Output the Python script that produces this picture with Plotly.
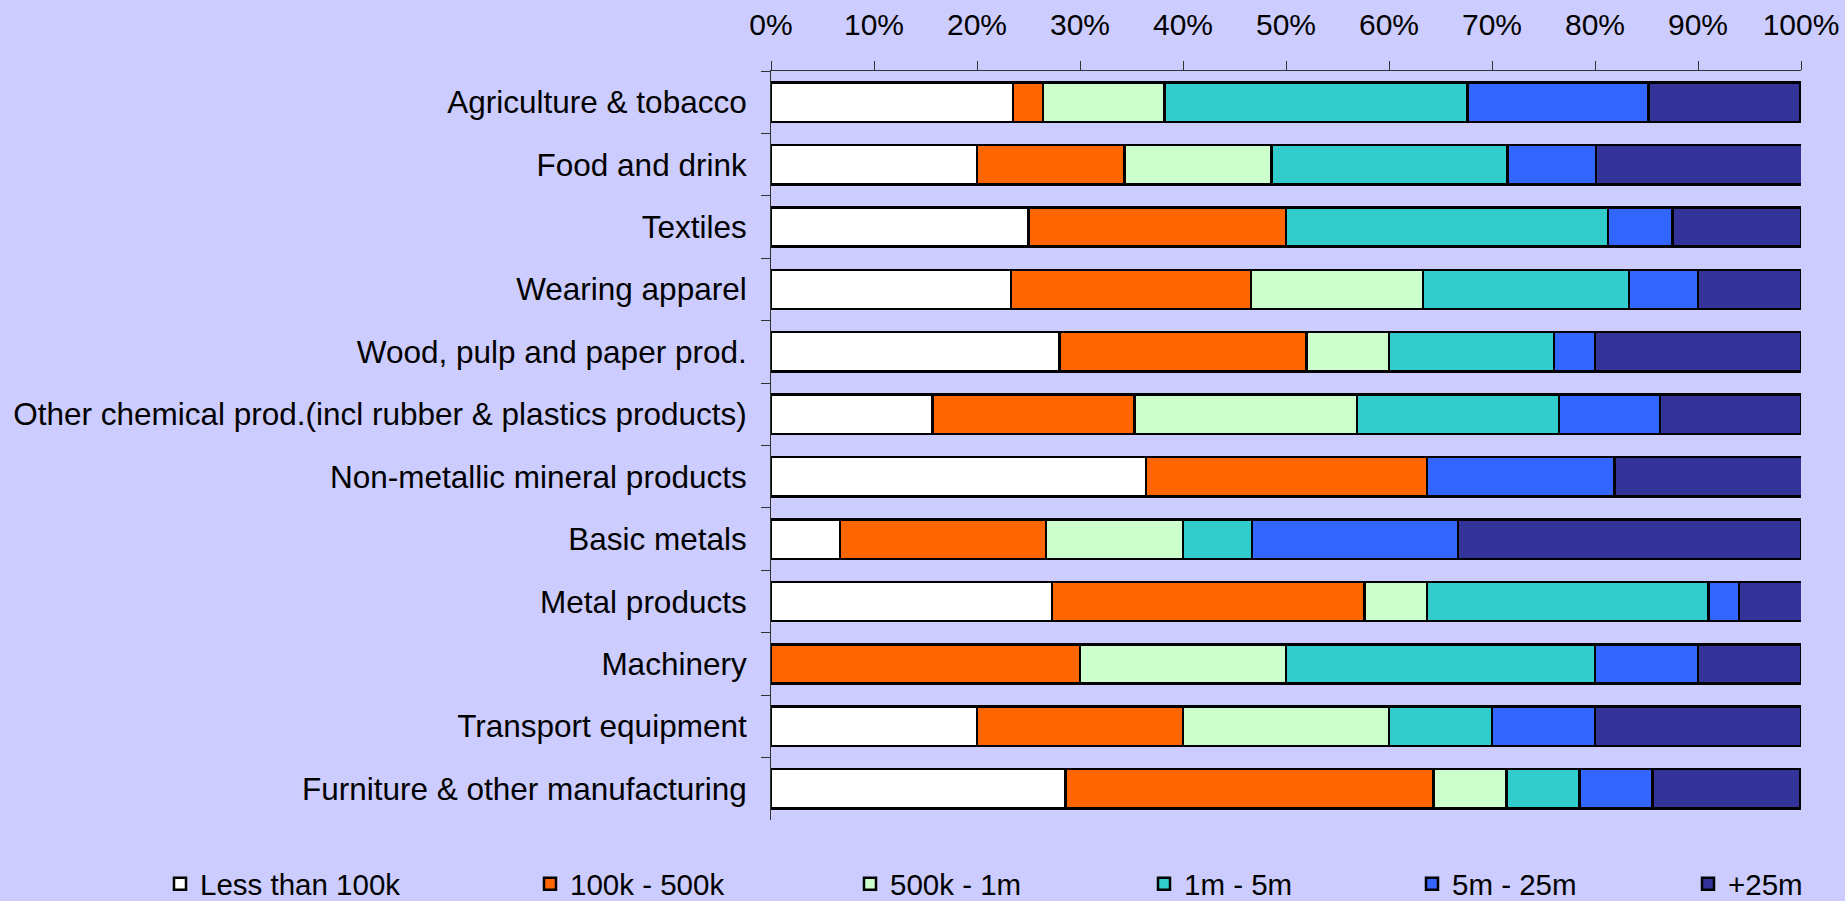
import plotly.graph_objects as go

categories = [
    "Agriculture & tobacco",
    "Food and drink",
    "Textiles",
    "Wearing apparel",
    "Wood, pulp and paper prod.",
    "Other chemical prod.(incl rubber & plastics products)",
    "Non-metallic mineral products",
    "Basic metals",
    "Metal products",
    "Machinery",
    "Transport equipment",
    "Furniture & other manufacturing",
]

series_names = ["Less than 100k", "100k - 500k", "500k - 1m", "1m - 5m", "5m - 25m", "+25m"]

less_100k = [23.5, 20.0, 25.0, 23.3, 28.0, 15.7, 36.4, 6.7, 27.3, 0.0, 20.0, 28.6]
k100_500k = [2.9, 14.3, 25.0, 23.3, 24.0, 19.6, 27.3, 20.0, 30.3, 30.0, 20.0, 35.7]
k500_1m = [11.8, 14.3, 0.0, 16.7, 8.0, 21.6, 0.0, 13.3, 6.1, 20.0, 20.0, 7.1]
m1_5m = [29.4, 22.9, 31.25, 20.0, 16.0, 19.6, 0.0, 6.7, 27.3, 30.0, 10.0, 7.1]
m5_25m = [17.6, 8.6, 6.25, 6.7, 4.0, 9.8, 18.2, 20.0, 3.0, 10.0, 10.0, 7.1]
over_25m = [14.7, 20.0, 12.5, 10.0, 20.0, 13.7, 18.2, 33.3, 6.1, 10.0, 20.0, 14.3]

series_values = [less_100k, k100_500k, k500_1m, m1_5m, m5_25m, over_25m]
colors = ["#FFFFFF", "#FF6600", "#CCFFCC", "#33CCCC", "#3366FF", "#333399"]

x_ticks = [0, 10, 20, 30, 40, 50, 60, 70, 80, 90, 100]
x_tick_labels = [f"{t}%" for t in x_ticks]

FONT = "Liberation Sans, Arial, sans-serif"
BG = "#CCCCFF"

# page / plot area geometry (pixels)
W, H = 1845, 901
L, R, T, B = 771, 44, 71, 81

legend_centers = [180, 550, 870, 1164, 1432, 1708]
legend_row_y = 884
legend_ids = ["legend", "legend2", "legend3", "legend4", "legend5", "legend6"]

fig = go.Figure()
for name, vals, col, lid in zip(series_names, series_values, colors, legend_ids):
    fig.add_trace(go.Bar(
        y=categories,
        x=vals,
        name=name,
        orientation="h",
        marker=dict(color=col, line=dict(color="#000000", width=2.5)),
        legend=lid,
        showlegend=True,
    ))

layout_legends = {}
for c, lid in zip(legend_centers, legend_ids):
    layout_legends[lid] = dict(
        xref="container",
        yref="container",
        x=(c - 20) / W,
        xanchor="left",
        y=1 - legend_row_y / H,
        yanchor="middle",
        orientation="h",
        bgcolor="rgba(0,0,0,0)",
        font=dict(family=FONT, size=29.5, color="#000000"),
        borderwidth=0,
        visible=True,
    )

fig.update_layout(
    width=W,
    height=H,
    showlegend=True,
    barmode="stack",
    bargap=0.37,
    paper_bgcolor=BG,
    plot_bgcolor=BG,
    margin=dict(l=L, r=R, t=T, b=B, autoexpand=False),
    font=dict(family=FONT, color="#000000"),
    xaxis=dict(
        side="top",
        range=[0, 100],
        tickvals=x_ticks,
        ticktext=x_tick_labels,
        ticks="outside",
        ticklen=9,
        tickcolor="#333333",
        tickwidth=1,
        showline=True,
        linecolor="#333333",
        linewidth=1,
        showgrid=False,
        zeroline=False,
        ticklabelstandoff=14,
        tickfont=dict(family=FONT, size=30, color="#000000"),
        fixedrange=True,
    ),
    yaxis=dict(
        autorange="reversed",
        ticks="outside",
        tickson="boundaries",
        ticklen=9,
        tickcolor="#333333",
        tickwidth=1,
        showline=True,
        linecolor="#333333",
        linewidth=1,
        showgrid=False,
        zeroline=False,
        ticklabelstandoff=17,
        tickfont=dict(family=FONT, size=31.5, color="#000000"),
        fixedrange=True,
    ),
    **layout_legends,
)

fig.write_html(
    "out.html",
    config={"displayModeBar": False},
    post_script="document.body.style.margin='0';document.body.style.padding='0';",
)
